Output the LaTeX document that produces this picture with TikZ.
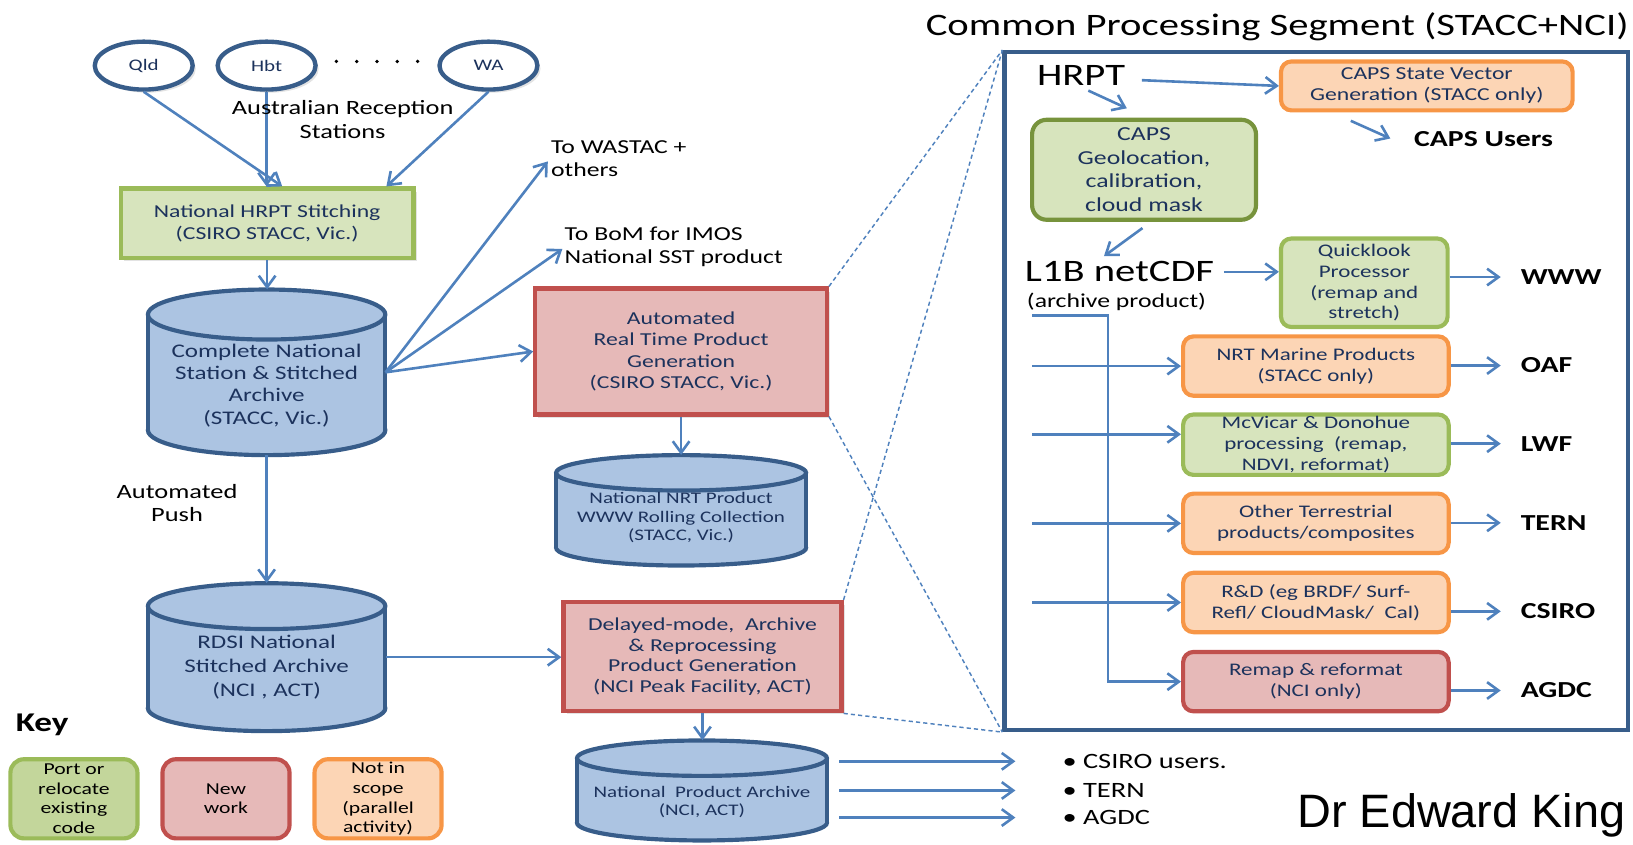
\documentclass[tikz,border=0pt]{standalone}
\usepackage{fontspec}
\setmainfont{Carlito}[FakeStretch=1.3]
\newfontfamily\arialf{Liberation Sans}
\usetikzlibrary{arrows.meta,shadows,shapes.geometric}
\definecolor{lblue}{RGB}{79,129,189}
\definecolor{dblue}{RGB}{56,93,138}
\definecolor{tblue}{RGB}{28,50,92}
\definecolor{cylfill}{RGB}{172,196,226}
\definecolor{gfill}{RGB}{215,228,189}
\definecolor{gbord}{RGB}{155,187,89}
\definecolor{gdark}{RGB}{119,147,60}
\definecolor{kgfill}{RGB}{195,214,155}
\definecolor{rfill}{RGB}{230,185,184}
\definecolor{rbord}{RGB}{192,80,77}
\definecolor{ofill}{RGB}{252,213,181}
\definecolor{obord}{RGB}{247,150,70}
\newcommand\fsz[2]{\fontsize{#1}{#2}\selectfont}
\newcommand\mkcyl[6]{%
  \pgfmathsetmacro\cx{(#2+#3)/2}%
  \pgfmathsetmacro\rx{(#3-#2)/2}%
  \filldraw[fill=cylfill, draw=dblue, line width=4pt] (\cx,#5-#6) ellipse [x radius=\rx pt, y radius=#6 pt];
  \fill[cylfill] (#2,#4+#6) rectangle (#3,#5-#6);
  \draw[dblue, line width=4pt] (#2,#4+#6) -- (#2,#5-#6) (#3,#4+#6) -- (#3,#5-#6);
  \filldraw[fill=cylfill, draw=dblue, line width=4pt] (\cx,#4+#6) ellipse [x radius=\rx pt, y radius=#6 pt];
  \node[inner sep=0, minimum width={2*\rx*1pt}, minimum height={(#5-#4)*1pt}] (#1) at (\cx,{(#4+#5)/2}) {};
}
\tikzset{
  arr/.style={draw=lblue, line width=2.5pt, -{Straight Barb[length=11pt,width=16pt,line width=2.5pt]}},
  dsh/.style={draw=lblue, line width=1.4pt, dash pattern=on 4pt off 3pt},
  shad/.style={drop shadow={opacity=0.22, shadow xshift=3pt, shadow yshift=-3pt}},
  station/.style={ellipse, draw=dblue, line width=4.2pt, fill=white, minimum width=94pt, minimum height=46pt, inner sep=0, text=tblue, font=\fsz{15.5}{18}},
  lbl/.style={inner sep=0, align=center, text=black},
  ctext/.style={inner sep=0, align=center, text=tblue},
  boxbase/.style={inner sep=0, align=center, text=tblue, line width=4pt},
  gbox/.style={boxbase, draw=gbord, fill=gfill},
  rbox/.style={boxbase, draw=rbord, fill=rfill},
  obox/.style={boxbase, draw=obord, fill=ofill},
  rnd/.style={rounded corners=10pt},
  bsz/.style={minimum width=255pt, minimum height=57pt, font=\fsz{17}{20}},
  keybox/.style={rounded corners=13pt, line width=4pt, minimum width=122pt, minimum height=76pt, inner sep=0, align=center, text=black, font=\fsz{16}{19}},
  outlbl/.style={anchor=west, inner sep=0, text=black, font=\bfseries\fsz{22}{26}},
}
\begin{document}
\begin{tikzpicture}[x=1pt,y=-1pt]
\useasboundingbox (0,0) rectangle (1568,811);

% ---------------- stations
\node[station, shad] (qld) at (138,63) {Qld};
\node[station, shad] (hbt) at (256,63) {Hbt};
\node[station, shad] (wa) at (469,63) {WA};
\foreach \x in {323,342.5,362,381.5,401} \fill (\x,59) circle (1.8pt);

\node[gbox, shad, minimum width=281pt, minimum height=67pt, font=\fsz{17.5}{21}] (stitch) at (256.5,214.5) {National HRPT Stitching\\(CSIRO STACC, Vic.)};
\draw[arr] (qld.south) -- ([xshift=14.5pt]stitch.north);
\draw[arr] (hbt.south) -- (hbt.south |- stitch.north);
\draw[arr] (wa.south) -- ([xshift=114.5pt]stitch.north);
\node[lbl, font=\fsz{19.5}{23}] (ars) at (329,114.5) {Australian Reception\\Stations};

% ---------------- left column
\mkcyl{cyl1}{142}{370}{278}{437}{24}
\node[ctext, font=\fsz{18.5}{21.5}] (cyl1t) at (256,370) {Complete National\\Station \& Stitched\\Archive\\(STACC, Vic.)};
\draw[arr] (stitch.south) -- (stitch.south |- cyl1.north);

\mkcyl{rdsi}{142}{370}{560}{702}{22}
\node[ctext, font=\fsz{18.5}{23}] (rdsit) at (256,641) {RDSI National\\Stitched Archive\\(NCI , ACT)};
\draw[arr] (cyl1.south) -- (rdsi.north);
\node[lbl, font=\fsz{19.5}{23}] (push) at (170,483) {Automated\\Push};

% ---------------- middle column
\node[rbox, shad, minimum width=280pt, minimum height=121pt, font=\fsz{17.5}{20.5}] (auto) at (654,337.5) {Automated\\Real Time Product\\Generation\\(CSIRO STACC, Vic.)};
\mkcyl{nrt}{534}{774}{437}{543}{17}
\node[ctext, font=\fsz{15.5}{17.5}] (nrtt) at (654,497) {National NRT Product\\WWW Rolling Collection\\(STACC, Vic.)};
\draw[arr] (auto.south) -- (auto.south |- nrt.north);

\node[lbl, anchor=west, align=left, font=\fsz{19}{22}] (wastac) at (529,152) {To WASTAC +\\others};
\node[lbl, anchor=west, align=left, font=\fsz{19}{22}] (bom) at (542,237) {To BoM for IMOS\\National SST product};
\draw[arr] (cyl1.east) -- ([xshift=-3pt,yshift=-3pt]wastac.west);
\draw[arr] (cyl1.east) -- ([xshift=-2pt,yshift=-2pt]bom.west);
\draw[arr] (cyl1.east) -- (auto.west);

\node[rbox, shad, minimum width=267pt, minimum height=105pt, font=\fsz{17.5}{19.7}] (delayed) at (674.5,630.5) {Delayed-mode,\ \ Archive\\\& Reprocessing\\Product Generation\\(NCI Peak Facility, ACT)};
\draw[arr] (rdsi.east) -- (rdsi.east -| delayed.west);
\mkcyl{npa}{554}{794}{711}{807}{17}
\node[ctext, font=\fsz{15.5}{18}] (npat) at (674,770) {National\ \ Product Archive\\(NCI, ACT)};
\draw[arr] (delayed.south) -- (delayed.south |- npa.north);

\node[lbl, anchor=west, font=\fsz{21}{25}] (b1) at (1020,731) {• CSIRO users.};
\node[lbl, anchor=west, font=\fsz{21}{25}] (b2) at (1020,759) {• TERN};
\node[lbl, anchor=west, font=\fsz{21}{25}] (b3) at (1020,785) {• AGDC};
\coordinate (o1) at (806,731);
\coordinate (o2) at (806,759);
\coordinate (o3) at (806,785);
\draw[arr] (o1) -- ([xshift=-45pt]b1.west);
\draw[arr] (o2) -- ([xshift=-45pt]b2.west);
\draw[arr] (o3) -- ([xshift=-45pt]b3.west);

% ---------------- key
\node[lbl, anchor=west, font=\bfseries\fsz{26}{30}] (key) at (15,696) {Key};
\node[keybox, draw=gbord, fill=kgfill] (k1) at (71,767) {Port or\\relocate\\existing\\code};
\node[keybox, draw=rbord, fill=rfill] (k2) at (217,767) {New\\work};
\node[keybox, draw=obord, fill=ofill] (k3) at (363,767) {Not in\\scope\\(parallel\\activity)};

% ---------------- right panel
\node[draw=dblue, line width=4pt, minimum width=599pt, minimum height=651pt, inner sep=0] (panel) at (1264,375.5) {};
\node[lbl, anchor=base east, font=\fsz{30}{34}] (title) at (1564,34) {Common Processing Segment (STACC+NCI)};
\draw[dsh] (auto.north east) -- (panel.north west);
\draw[dsh] (auto.south east) -- (panel.south west);
\draw[dsh] (delayed.north east) -- (panel.north west);
\draw[dsh] (delayed.south east) -- (panel.south west);

\node[lbl, font=\fsz{30}{34}] (hrpt) at (1038,72) {HRPT};
\node[obox, rnd, minimum width=280pt, minimum height=47pt, font=\fsz{17.5}{20}] (capssv) at (1370,82.5) {CAPS State Vector\\Generation (STACC only)};
\draw[arr] ([xshift=16pt,yshift=-5pt]hrpt.east) -- (capssv.west);
\coordinate (h1) at (1045,87);
\coordinate (h2) at (1082,104);
\draw[arr] (h1) -- (h2);
\node[gbox, draw=gdark, rounded corners=14pt, minimum width=215pt, minimum height=96pt, font=\fsz{19}{22.5}] (geo) at (1098.5,163) {CAPS\\Geolocation,\\calibration,\\cloud mask};
\coordinate (u1) at (1297,116);
\coordinate (u2) at (1335,133);
\draw[arr] (u1) -- (u2);
\node[lbl, font=\bfseries\fsz{22}{26}] (capsu) at (1424.5,134) {CAPS Users};
\coordinate (g1) at (1097,219);
\coordinate (g2) at (1060,246);
\draw[arr] (g1) -- (g2);
\node[lbl, font=\fsz{30}{34}] (l1b) at (1075,261) {L1B netCDF};
\node[lbl, font=\fsz{19}{22}] (arch) at (1072,290) {(archive product)};
\node[gbox, rnd, minimum width=160pt, minimum height=85pt, font=\fsz{17}{20}] (ql) at (1310,271.5) {Quicklook\\Processor\\(remap and\\stretch)};
\draw[arr] ([xshift=9pt]l1b.east) -- (l1b.east -| ql.west);
\node[outlbl] (www) at (1460,266) {WWW};
\draw[arr] (ql.east |- www.west) -- ([xshift=-19pt]www.west);

\node[obox, rnd, bsz] (nrtm) at (1263.5,351.5) {NRT Marine Products\\(STACC only)};
\node[gbox, rnd, bsz, minimum height=58pt] (mcv) at (1263.5,427) {McVicar \& Donohue\\processing\ \ (remap,\\NDVI, reformat)};
\node[obox, rnd, bsz] (oth) at (1263.5,502.5) {Other Terrestrial\\products/composites};
\node[obox, rnd, bsz] (rdbox) at (1263.5,578.5) {R\&D (eg BRDF/ Surf-\\Refl/ CloudMask/\ \ Cal)};
\node[rbox, rnd, bsz] (remap) at (1263.5,654.5) {Remap \& reformat\\(NCI only)};

\coordinate (bs) at (991,303);
\coordinate (bx) at (1064,303);
\coordinate (mcvin) at ([yshift=10pt]mcv.west);
\draw[arr] (bs) -- (bx) |- (remap.west);
\draw[arr] (bs |- nrtm.west) -- (nrtm.west);
\draw[arr] (bs |- mcvin) -- (mcvin);
\draw[arr] (bs |- oth.west) -- (oth.west);
\draw[arr] (bs |- rdbox.west) -- (rdbox.west);

\node[outlbl] (oaf) at (1460,351) {OAF};
\node[outlbl] (lwf) at (1460,426) {LWF};
\node[outlbl] (tern) at (1460,502) {TERN};
\node[outlbl] (csiro) at (1460,587) {CSIRO};
\node[outlbl] (agdc) at (1460,663) {AGDC};
\draw[arr] (nrtm.east |- oaf.west) -- ([xshift=-19pt]oaf.west);
\draw[arr] (mcv.east |- lwf.west) -- ([xshift=-19pt]lwf.west);
\draw[arr] (oth.east |- tern.west) -- ([xshift=-19pt]tern.west);
\draw[arr] (rdbox.east |- csiro.west) -- ([xshift=-19pt]csiro.west);
\draw[arr] (remap.east |- agdc.west) -- ([xshift=-19pt]agdc.west);

\node[anchor=base east, inner sep=0, font=\arialf\fsz{45}{50}] (king) at (1561,795) {Dr Edward King};
\end{tikzpicture}
\end{document}
